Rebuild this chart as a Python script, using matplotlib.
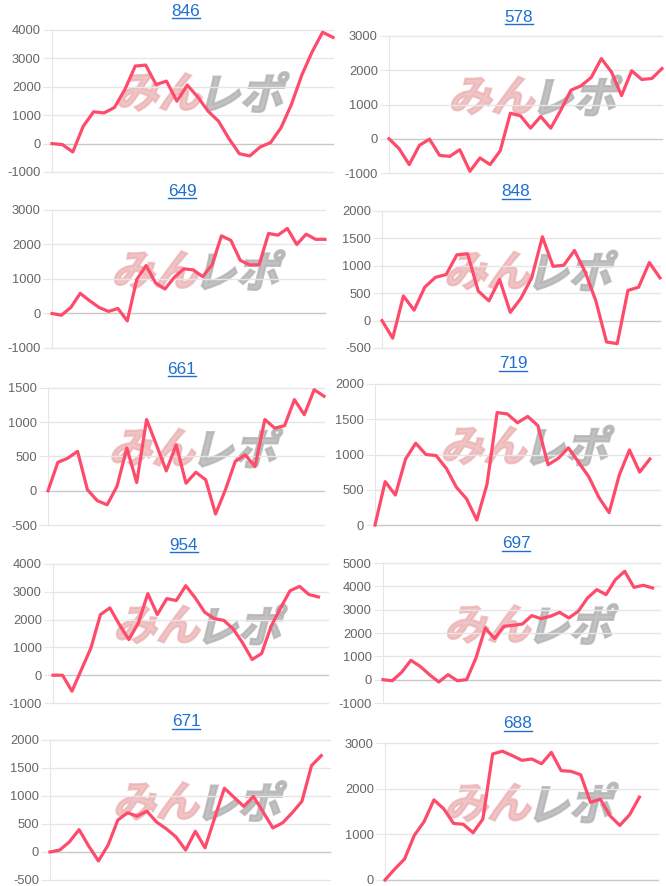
import numpy as np
import matplotlib
matplotlib.use('Agg')
import matplotlib.pyplot as plt
from matplotlib.font_manager import FontProperties
from matplotlib.textpath import TextPath
from matplotlib.patches import PathPatch
from matplotlib.transforms import Affine2D
from matplotlib.lines import Line2D

plt.rcParams['font.family'] = ['Liberation Sans', 'DejaVu Sans']

# ---- data ----
titles = ['846', '578', '649', '848', '661', '719', '954', '697', '671', '688']

s846 = [0, -35, -295, 610, 1120, 1080, 1270, 1905, 2730, 2765, 2080, 2200, 1495, 2060,
        1645, 1140, 790, 175, -355, -435, -120, 35, 555, 1375, 2410, 3235, 3920, 3740]
s578 = [0, -290, -755, -195, -10, -485, -515, -320, -950, -560, -755, -350, 745, 670,
        310, 650, 310, 840, 1420, 1545, 1790, 2340, 1950, 1260, 1985, 1730, 1760, 2050]
s649 = [0, -50, 175, 585, 370, 175, 60, 145, -215, 985, 1390, 885, 710, 1050, 1295,
        1265, 1070, 1410, 2250, 2120, 1540, 1410, 1410, 2320, 2270, 2465, 2000, 2300, 2150, 2150]
s848 = [0, -320, 450, 190, 610, 790, 840, 1200, 1220, 540, 360, 750, 150, 410, 780,
        1530, 990, 1010, 1280, 890, 360, -390, -420, 550, 610, 1060, 780]
s661 = [0, 415, 475, 575, 15, -145, -205, 65, 625, 120, 1040, 670, 290, 670, 110, 270,
        160, -340, 15, 430, 525, 355, 1040, 915, 950, 1330, 1110, 1475, 1380]
s719 = [0, 615, 425, 935, 1160, 1000, 985, 805, 535, 370, 70, 575, 1595, 1575, 1450,
        1540, 1410, 855, 945, 1095, 890, 685, 390, 175, 710, 1065, 750, 935]
s954 = [0, 0, -575, 205, 980, 2180, 2420, 1820, 1280, 1880, 2935, 2180, 2755, 2685,
        3220, 2780, 2265, 2035, 1975, 1665, 1160, 565, 780, 1760, 2420, 3040, 3195, 2900, 2815]
s697 = [0, -45, 315, 830, 570, 215, -100, 215, -45, 0, 930, 2215, 1760, 2285, 2330,
        2385, 2745, 2615, 2715, 2885, 2645, 2930, 3500, 3860, 3645, 4285, 4645, 3955, 4045, 3930]
s671 = [0, 35, 180, 400, 105, -160, 125, 570, 700, 640, 730, 535, 415, 270, 35, 370,
        75, 610, 1140, 975, 815, 990, 715, 430, 520, 700, 905, 1545, 1720]
s688 = [0, 240, 460, 980, 1280, 1755, 1560, 1240, 1220, 1035, 1335, 2760, 2820, 2725,
        2620, 2650, 2545, 2795, 2395, 2380, 2305, 1700, 1770, 1405, 1195, 1430, 1815]

series = [s846, s578, s649, s848, s661, s719, s954, s697, s671, s688]

yticks = [
    [-1000, 0, 1000, 2000, 3000, 4000],
    [-1000, 0, 1000, 2000, 3000],
    [-1000, 0, 1000, 2000, 3000],
    [-500, 0, 500, 1000, 1500, 2000],
    [-500, 0, 500, 1000, 1500],
    [0, 500, 1000, 1500, 2000],
    [-1000, 0, 1000, 2000, 3000, 4000],
    [-1000, 0, 1000, 2000, 3000, 4000, 5000],
    [-500, 0, 500, 1000, 1500, 2000],
    [0, 1000, 2000, 3000],
]

# ---- layout in pixels (left, right, top, bottom), title centre, x extent ----
W, H = 666, 886
boxes = [(52, 333, 30, 172), (389, 662, 36, 173),
         (52, 325, 210, 348), (382, 660, 211, 348),
         (48, 324, 388, 525), (375, 660, 384, 525),
         (53, 328, 564, 703), (383, 660, 563, 703),
         (50, 330, 740, 880), (385, 658, 743, 880)]
title_pos = [(186, 11), (519, 17), (182, 191), (516, 192), (182, 369),
             (513, 364), (184, 545), (516, 544), (186, 722), (518, 724)]
xmax = [27, 27, 29, 26, 28, 28, 29, 29.8, 28.9, 27.9]

LINE = '#ff4b6b'
GRID = '#e6e6e6'
ZERO = '#c8c8c8'
BLUE = '#1f6fcf'

fig = plt.figure(figsize=(W / 100, H / 100), dpi=100)
fp = FontProperties(family='Noto Sans CJK JP', weight='bold')


def watermark(cx, cy):
    # cx, cy: centre in pixels, y measured from top
    parts = [('みん', '#ebb0b2', 0.75), ('レポ', '#b2b2b2', 0.8)]
    x = cx - 86
    for txt, col, a in parts:
        tp = TextPath((0, 0), txt, size=43, prop=fp)
        ext = tp.get_extents()
        tr = (Affine2D().translate(-ext.x0, -ext.y0).skew_deg(14, 0)
              .translate(x, H - cy - ext.height / 2).scale(1 / 100) + fig.dpi_scale_trans)
        fig.add_artist(PathPatch(tp, transform=tr, fc=col, ec=col, lw=1.6,
                                 alpha=a, zorder=0.5))
        x += ext.width + 6


title_texts = []
for i in range(10):
    l, r, t, b = boxes[i]
    ax = fig.add_axes([l / W, 1 - b / H, (r - l) / W, (b - t) / H])
    ax.set_zorder(1)
    ax.patch.set_visible(False)
    ticks = yticks[i]
    ax.set_ylim(ticks[0], ticks[-1])
    ax.set_xlim(0, xmax[i])
    ax.set_yticks(ticks)
    ax.set_yticklabels([str(v) for v in ticks])
    ax.set_xticks([])
    for v in ticks:
        ax.axhline(v, color=ZERO if v == 0 else GRID, lw=1, clip_on=False, zorder=1)
    for s in ['top', 'right', 'bottom']:
        ax.spines[s].set_visible(False)
    ax.spines['left'].set_color(GRID)
    ax.tick_params(axis='y', length=6.5, width=0.8, color=GRID, pad=1.5,
                   labelsize=9.3, labelcolor='#666666')
    y = series[i]
    ax.plot(np.arange(len(y)), y, color=LINE, lw=2.3, solid_joinstyle='round',
            clip_on=False, zorder=3)
    watermark((l + r) / 2 + 10, (t + b) / 2 - 9)
    tx, ty = title_pos[i]
    title_texts.append(fig.text(tx / W, 1 - ty / H, titles[i], ha='center', va='center',
                                color=BLUE, fontsize=12.3))

# underline the titles like links
fig.canvas.draw()
ren = fig.canvas.get_renderer()
for tt in title_texts:
    bb = tt.get_window_extent(ren)
    yy = (bb.y0 + 0.5) / H
    fig.add_artist(Line2D([bb.x0 / W, bb.x1 / W], [yy, yy], color=BLUE, lw=1.0))

fig.savefig('out.png', dpi=100)
